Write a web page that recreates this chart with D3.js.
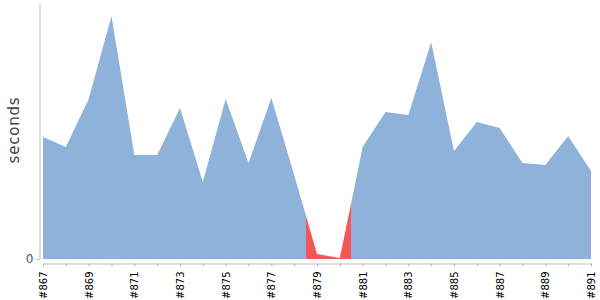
<!DOCTYPE html>
<html>
<head>
<meta charset="utf-8">
<script src="https://cdn.jsdelivr.net/npm/d3@7"></script>
<style>
  body { margin: 0; background: #fff; }
  svg { display: block; font-family: "DejaVu Sans", sans-serif; }
  .axis path, .axis line { stroke: #bbb; }
</style>
</head>
<body>
<svg width="600" height="300"></svg>
<script>
// build numbers along the x axis
var builds = [867, 868, 869, 870, 871, 872, 873, 874, 875, 876, 877, 878,
              879, 880, 881, 882, 883, 884, 885, 886, 887, 888, 889, 890, 891];
// build duration (seconds)
var durations = [122, 112, 160, 243, 104, 104, 151, 77, 160, 96, 161, 84,
                 5, 1, 112, 147, 144, 217, 108, 137, 131, 96, 94, 123, 88];
// build result
var results = ["ok", "ok", "ok", "ok", "ok", "ok", "ok", "ok", "ok", "ok", "ok", "ok",
               "fail", "fail", "ok", "ok", "ok", "ok", "ok", "ok", "ok", "ok", "ok", "ok", "ok"];

var colors = { ok: "#8fb2da", fail: "#f55656" };

var svg = d3.select("svg");

var x = d3.scaleLinear()
  .domain([0, builds.length - 1])
  .range([43, 591]);

var y = d3.scaleLinear()
  .domain([0, d3.max(durations) * 1.05])
  .range([259, 4]);

//
// gradient: each build colours the area between the midpoints around it
//
var grad = svg.append("defs").append("linearGradient")
  .attr("id", "status")
  .attr("gradientUnits", "userSpaceOnUse")
  .attr("x1", x(0)).attr("x2", x(builds.length - 1))
  .attr("y1", 0).attr("y2", 0);

var span = x(builds.length - 1) - x(0);
results.forEach(function(r, i) {
  var a = i == 0 ? x(0) : (x(i - 1) + x(i)) / 2;
  var b = i == results.length - 1 ? x(i) : (x(i) + x(i + 1)) / 2;
  grad.append("stop").attr("offset", (a - x(0)) / span).attr("stop-color", colors[r]);
  grad.append("stop").attr("offset", (b - x(0)) / span).attr("stop-color", colors[r]);
});

var area = d3.area()
  .x(function(d, i) { return x(i); })
  .y0(y(0))
  .y1(function(d) { return y(d); });

svg.append("path")
  .datum(durations)
  .attr("fill", "url(#status)")
  .attr("d", area);

// x axis, a bit below the plot
var xAxis = svg.append("g")
  .attr("class", "axis")
  .attr("transform", "translate(0,263.5)")
  .call(d3.axisBottom(x)
    .tickValues(d3.range(builds.length))
    .tickSize(3)
    .tickSizeOuter(0)
    .tickFormat(function(i) { return i % 2 == 0 ? "#" + builds[i] : ""; }));

xAxis.selectAll("text")
  .attr("transform", "rotate(-90)")
  .attr("text-anchor", "end")
  .attr("x", -8)
  .attr("y", 0)
  .attr("dy", "0.35em")
  .attr("fill", "#000")
  .style("font-size", "10px")
  .style("font-family", "DejaVu Sans, sans-serif");

// y axis, only the zero tick
var yAxis = svg.append("g")
  .attr("class", "axis")
  .attr("transform", "translate(39.5,0)")
  .call(d3.axisLeft(y)
    .tickValues([0])
    .tickSize(3)
    .tickSizeOuter(0));

yAxis.selectAll("text")
  .attr("fill", "#555")
  .style("font-size", "12px")
  .style("font-family", "DejaVu Sans, sans-serif");

svg.append("text")
  .attr("transform", "translate(19,130) rotate(-90)")
  .attr("text-anchor", "middle")
  .attr("fill", "#444")
  .style("font-size", "15px")
  .style("letter-spacing", "0.8px")
  .text("seconds");
</script>
</body>
</html>
